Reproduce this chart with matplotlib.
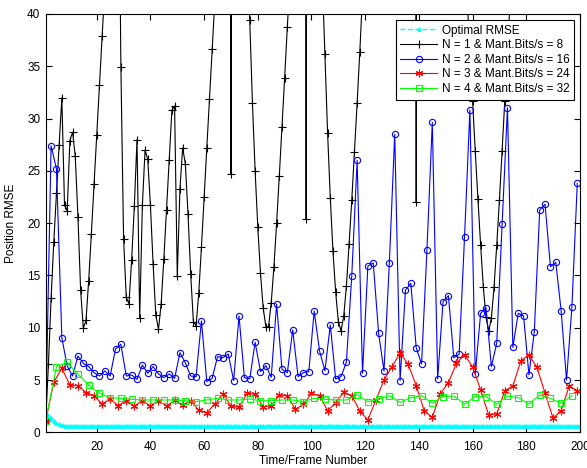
import numpy as np
import matplotlib
matplotlib.use("Agg")
from matplotlib import pyplot as plt

plt.rcParams['font.family'] = ['Liberation Sans', 'DejaVu Sans']

# frame axes for each series (estimate every N frames)
frames_n1 = np.arange(1, 201)
frames_n2 = np.arange(1, 200, 2)
frames_n3 = np.arange(1, 200, 3)
frames_n4 = np.arange(1, 198, 4)

optimal_rmse = [
    1.1, 1.7, 1.35, 1.12, 0.93, 0.77, 0.68, 0.64, 0.62, 0.61,
    0.61, 0.6, 0.6, 0.61, 0.6, 0.6, 0.6, 0.61, 0.6, 0.6,
    0.6, 0.6, 0.61, 0.6, 0.6, 0.6, 0.6, 0.61, 0.6, 0.6,
    0.6, 0.6, 0.6, 0.61, 0.6, 0.6, 0.6, 0.6, 0.6, 0.61,
    0.6, 0.6, 0.6, 0.6, 0.61, 0.6, 0.6, 0.6, 0.6, 0.6,
    0.61, 0.6, 0.6, 0.6, 0.6, 0.6, 0.6, 0.61, 0.6, 0.6,
    0.6, 0.6, 0.6, 0.6, 0.61, 0.6, 0.6, 0.6, 0.6, 0.6,
    0.6, 0.61, 0.6, 0.6, 0.6, 0.6, 0.6, 0.6, 0.61, 0.6,
    0.6, 0.6, 0.6, 0.6, 0.6, 0.61, 0.6, 0.6, 0.6, 0.6,
    0.6, 0.6, 0.61, 0.6, 0.6, 0.6, 0.6, 0.6, 0.6, 0.61,
    0.6, 0.6, 0.6, 0.6, 0.6, 0.6, 0.61, 0.6, 0.6, 0.6,
    0.6, 0.6, 0.6, 0.61, 0.6, 0.6, 0.6, 0.6, 0.6, 0.6,
    0.61, 0.6, 0.6, 0.6, 0.6, 0.6, 0.6, 0.61, 0.6, 0.6,
    0.6, 0.6, 0.6, 0.6, 0.61, 0.6, 0.6, 0.6, 0.6, 0.6,
    0.6, 0.61, 0.6, 0.6, 0.6, 0.6, 0.6, 0.6, 0.61, 0.6,
    0.6, 0.6, 0.6, 0.6, 0.6, 0.61, 0.6, 0.6, 0.6, 0.6,
    0.6, 0.6, 0.61, 0.6, 0.6, 0.6, 0.6, 0.6, 0.6, 0.61,
    0.6, 0.6, 0.6, 0.6, 0.6, 0.6, 0.61, 0.6, 0.6, 0.6,
    0.6, 0.6, 0.6, 0.61, 0.6, 0.6, 0.6, 0.6, 0.6, 0.6,
    0.61, 0.6, 0.6, 0.6, 0.6, 0.6, 0.6, 0.61, 0.6, 0.6,
]

# N = 1, many values run far off the top of the plot
rmse_n1 = [
    1.1, 6.5, 12.8, 18.2, 22.9, 27.5, 32.0, 21.7, 21.2, 27.9,
    28.7, 26.4, 20.6, 13.6, 9.95, 10.7, 14.5, 19.0, 23.7, 28.4,
    33.2, 37.9, 42.5, 47.0, 53.0, 58.0, 57.0, 62.0, 34.9, 18.5,
    12.9, 12.3, 16.5, 21.6, 28.0, 10.9, 21.7, 27.0, 26.1, 21.7,
    16.1, 11.2, 9.85, 12.3, 16.6, 21.3, 26.0, 30.8, 31.2, 14.95,
    23.3, 27.2, 25.7, 20.9, 15.1, 10.6, 10.2, 13.3, 17.7, 22.5,
    27.2, 31.9, 36.7, 41.2, 48.0, 61.0, 83.0, 118.0, 210.0, 24.7,
    205.0, 150.0, 108.0, 82.0, 61.0, 47.0, 39.4, 31.5, 25.0, 19.6,
    15.2, 11.9, 10.1, 10.1, 12.4, 15.8, 20.0, 24.5, 29.2, 33.9,
    38.8, 43.2, 56.0, 71.0, 98.0, 147.0, 250.0, 20.4, 248.0, 178.0,
    121.0, 83.0, 61.0, 43.5, 36.2, 28.6, 22.4, 17.3, 13.4, 10.6,
    9.7, 11.1, 14.0, 18.0, 22.2, 26.8, 31.5, 36.4, 41.8, 51.0,
    63.0, 74.0, 86.0, 97.0, 104.0, 118.0, 127.0, 138.0, 151.0, 162.0,
    174.0, 191.0, 203.0, 219.0, 236.0, 244.0, 252.0, 261.0, 22.0, 258.0,
    231.0, 198.0, 172.0, 149.0, 131.0, 112.0, 96.0, 84.0, 77.0, 69.0,
    63.0, 58.0, 54.0, 50.0, 47.0, 44.5, 43.0, 41.3, 36.5, 31.7,
    26.9, 22.3, 17.9, 13.9, 11.0, 9.7, 10.9, 13.9, 17.9, 22.2,
    26.9, 31.7, 36.5, 41.3, 46.0, 52.0, 57.0, 64.0, 71.0, 77.0,
    82.0, 89.0, 93.0, 101.0, 104.0, 111.0, 113.0, 119.0, 121.0, 127.0,
    131.0, 132.0, 137.0, 139.0, 143.0, 146.0, 147.0, 151.0, 152.0, 156.0,
]

rmse_n2 = [
    1.1, 27.4, 25.2, 9.06, 6.34, 5.39, 7.30, 6.60, 6.29, 5.71,
    5.39, 5.87, 5.39, 7.97, 8.42, 5.39, 5.49, 5.07, 6.44, 5.65,
    6.29, 5.59, 5.24, 5.59, 5.17, 7.62, 6.66, 5.39, 5.33, 10.65,
    4.85, 5.17, 7.24, 7.14, 7.49, 4.95, 11.13, 5.23, 5.11, 8.61,
    5.81, 6.38, 5.27, 12.27, 6.03, 5.71, 9.79, 5.33, 5.71, 5.81,
    11.60, 7.78, 5.90, 10.27, 5.11, 5.33, 6.70, 14.98, 26.0, 5.65,
    15.9, 16.2, 9.47, 5.87, 16.2, 28.5, 4.95, 13.6, 14.25, 8.10,
    6.54, 17.44, 29.64, 5.11, 12.5, 13.07, 7.14, 7.46, 18.65, 30.82,
    5.59, 11.38, 11.92, 6.29, 8.52, 19.9, 31.05, 8.13, 11.38, 11.13,
    5.49, 9.63, 21.26, 21.8, 15.85, 16.26, 11.6, 5.0, 11.96, 23.8,
]

rmse_n3 = [
    1.1, 4.79, 6.13, 4.53, 4.47, 3.8, 3.51, 2.72, 3.19, 2.56,
    3.03, 2.52, 3.03, 2.52, 3.03, 2.52, 3.06, 2.62, 3.03, 2.14,
    1.89, 2.72, 3.67, 2.52, 2.40, 3.73, 3.67, 2.46, 2.52, 3.58,
    3.51, 2.21, 2.67, 3.73, 3.51, 2.08, 2.84, 3.83, 3.51, 2.05,
    1.19, 3.10, 5.01, 6.28, 7.6, 6.51, 4.47, 2.05, 1.44, 3.70,
    4.76, 6.61, 7.40, 6.28, 4.05, 1.66, 1.76, 3.99, 4.44, 6.86,
    7.40, 6.22, 3.73, 1.34, 2.08, 4.44, 3.99,
]

rmse_n4 = [
    1.1, 6.28, 6.69, 5.55, 4.53, 3.73, 3.32, 3.26, 3.16, 3.10,
    3.10, 3.10, 3.10, 3.03, 2.94, 3.10, 3.26, 3.10, 3.10, 3.19,
    3.03, 3.03, 3.10, 3.10, 2.94, 3.26, 3.16, 3.10, 3.10, 3.58,
    2.94, 3.16, 3.51, 2.87, 3.32, 3.51, 2.79, 3.42, 3.48, 2.71,
    3.42, 3.42, 2.71, 3.48, 3.32, 2.71, 3.58, 3.26, 2.79, 3.51,
]

labels = ['Optimal RMSE',
          'N = 1 & Mant.Bits/s = 8',
          'N = 2 & Mant.Bits/s = 16',
          'N = 3 & Mant.Bits/s = 24',
          'N = 4 & Mant.Bits/s = 32']

fig = plt.figure(figsize=(5.87, 4.68), dpi=100)
ax = fig.add_axes([0.0779, 0.0761, 0.9101, 0.894])

lw = 0.8
ax.plot(frames_n1, optimal_rmse, '--', color='cyan', marker='^', markersize=2.5,
        lw=1.0, label=labels[0])
ax.plot(frames_n1, rmse_n1, '-', color='k', marker='+', markersize=5.5,
        mew=0.8, lw=lw, label=labels[1])
ax.plot(frames_n2, rmse_n2, '-', color='b', marker='o', markersize=4.5,
        mfc='none', mew=0.8, lw=lw, label=labels[2])
# asterisk marker like the matlab '*'
ax.plot(frames_n3, rmse_n3, '-', color='r', marker=(6, 2, 0), markersize=5.5,
        mew=0.8, lw=lw, label=labels[3])
ax.plot(frames_n4, rmse_n4, '-', color='lime', marker='s', markersize=4,
        mfc='none', mew=0.8, lw=lw, label=labels[4])

ax.set_xlim(1, 200)
ax.set_ylim(0, 40)
ax.set_xticks(np.arange(20, 201, 20))
ax.set_yticks(np.arange(0, 41, 5))
ax.tick_params(direction='in', top=True, right=True, length=4, width=0.8,
               labelsize=8.5)
ax.tick_params(axis='x', pad=6)
ax.tick_params(axis='y', pad=4)
for s in ax.spines.values():
    s.set_linewidth(0.8)

ax.set_xlabel('Time/Frame Number', fontsize=8.5, labelpad=2)
ax.set_ylabel('Position RMSE', fontsize=8.5, labelpad=7)

leg = ax.legend(loc='upper right', fontsize=8.5, handlelength=3.1,
                handletextpad=0.4, labelspacing=0.22, borderpad=0.4,
                borderaxespad=0.5, fancybox=False, framealpha=1,
                edgecolor='k')
leg.get_frame().set_linewidth(0.8)

plt.savefig('out.png', dpi=100)
